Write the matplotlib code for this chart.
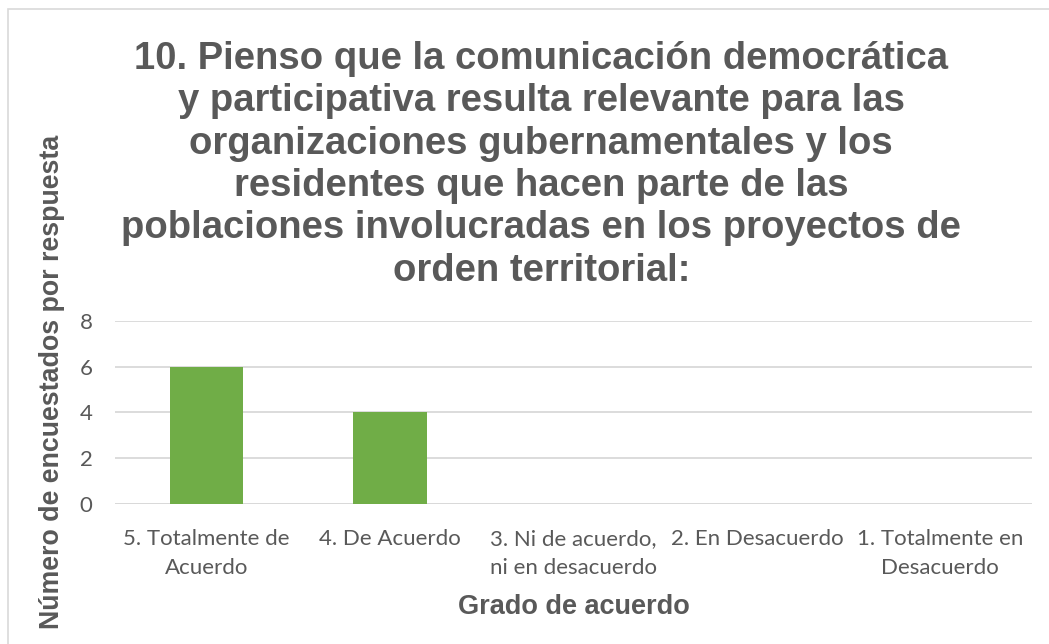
import matplotlib

matplotlib.use("Agg")
import matplotlib.pyplot as plt
from matplotlib.patches import Rectangle

categories = ["5. Totalmente de\nAcuerdo", "4. De Acuerdo",
              "3. Ni de acuerdo,\nni en desacuerdo", "2. En Desacuerdo",
              "1. Totalmente en\nDesacuerdo"]
counts = [6, 4, 0, 0, 0]
y_ticks = [0, 2, 4, 6, 8]

title = ("10. Pienso que la comunicación democrática\n"
         "y participativa resulta relevante para las\n"
         "organizaciones gubernamentales y los\n"
         "residentes que hacen parte de las\n"
         "poblaciones involucradas en los proyectos de\n"
         "orden territorial:")

GREY = "#595959"
GREEN = "#70AD47"

fig = plt.figure(figsize=(10.49, 6.44), dpi=100)
fig.patches.append(Rectangle((8 / 1049, -0.01), 1.2, 1 - 9 / 644 + 0.01,
                             transform=fig.transFigure, fill=False,
                             edgecolor="#D9D9D9", lw=1.2))

ax = fig.add_axes([0.1096, 0.2174, 0.8742, 0.2842])
x = range(len(categories))
ax.bar(x, counts, width=0.40, color=GREEN, zorder=3)
ax.set_xlim(-0.5, len(categories) - 0.5)
ax.set_ylim(0, 8)
ax.set_yticks(y_ticks)
ax.set_xticks(list(x))
ax.set_xticklabels(categories, fontsize=16, color=GREY, family="Lato",
                   linespacing=1.55)
ax.tick_params(axis="y", labelsize=16, labelcolor=GREY, length=0, pad=16)
ax.tick_params(axis="x", length=0, pad=18)
for t in ax.get_yticklabels():
    t.set_family("Lato")
ax.grid(axis="y", color="#D9D9D9", lw=1.3, zorder=0)
for s in ax.spines.values():
    s.set_visible(False)
ax.axhline(0, color="#D9D9D9", lw=1.3, zorder=2)

ax.set_xlabel("Grado de acuerdo", fontsize=19.5, fontweight="bold", color=GREY,
              family="Liberation Sans", labelpad=12)
fig.text(0.05, 0.407, "Número de encuestados por respuesta", rotation=90,
         ha="center", va="center", fontsize=19.3, fontweight="bold", color=GREY,
         family="Liberation Sans")

fig.text(0.516, 0.744, title, ha="center", va="center", fontsize=27.5,
         fontweight="bold", color=GREY, family="Liberation Sans",
         linespacing=1.225)

fig.savefig("out.png", dpi=100)
